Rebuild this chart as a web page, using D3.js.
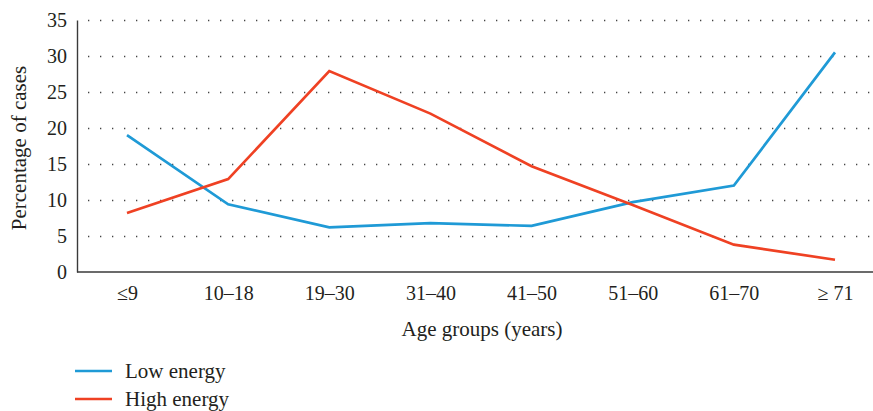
<!DOCTYPE html>
<html>
<head>
<meta charset="utf-8">
<script src="https://cdn.jsdelivr.net/npm/d3@7"></script>
<style>
  body { margin: 0; background: #fff; }
  svg text { font-family: "Liberation Serif", "DejaVu Serif", serif; fill: #231f20; }
</style>
</head>
<body>
<svg id="chart" width="873" height="411"></svg>
<script>
// data
var ageGroups = ["≤9", "10–18", "19–30", "31–40", "41–50", "51–60", "61–70", "≥ 71"];
var lowEnergy = [19.0, 9.4, 6.2, 6.8, 6.4, 9.7, 12.0, 30.5];
var highEnergy = [8.2, 12.9, 27.9, 22.0, 14.7, 9.3, 3.8, 1.7];
var yTicks = [0, 5, 10, 15, 20, 25, 30, 35];

var series = [
	{name: "Low energy", values: lowEnergy, color: "#1f9ad6"},
	{name: "High energy", values: highEnergy, color: "#ef4123"}
];

var svg = d3.select("#chart");
var mLeft = 77, mRight = 873, mTop = 20, mBottom = 272;
var tickFont = "20px", titleFont = "21px";

var x = d3.scalePoint().domain(ageGroups).range([127, 835]);
var y = d3.scaleLinear().domain([0, 35]).range([mBottom, mTop]);

// dotted grid
svg.append("g").selectAll("line")
	.data(yTicks.filter(function(d){ return d > 0; }))
	.enter().append("line")
	.attr("x1", mLeft + 11).attr("x2", mRight)
	.attr("y1", function(d){ return Math.round(y(d)) + 0.5; })
	.attr("y2", function(d){ return Math.round(y(d)) + 0.5; })
	.attr("stroke", "#444")
	.attr("stroke-width", 1.3)
	.attr("stroke-dasharray", "1.3,10.7");

// y axis
var yaxis = d3.axisLeft(y).tickValues(yTicks).tickSize(0).tickPadding(10);
var gy = svg.append("g").attr("transform", "translate(" + mLeft + ",0)").call(yaxis);
gy.select(".domain").attr("stroke", "#3a3a3a").attr("stroke-width", 1.4);
gy.selectAll("text").style("font-size", tickFont).attr("dy", "0.33em");

// x axis
var xaxis = d3.axisBottom(x).tickSize(0).tickPadding(14);
var gx = svg.append("g").attr("transform", "translate(0," + mBottom + ")").call(xaxis);
gx.select(".domain").attr("d", "M" + mLeft + ",0H" + mRight).attr("stroke", "#3a3a3a").attr("stroke-width", 1.4);
gx.selectAll("text").style("font-size", tickFont);

// axis titles
svg.append("text")
	.attr("transform", "translate(26," + ((mTop + mBottom) / 2 + 2) + ")rotate(-90)")
	.style("text-anchor", "middle")
	.style("font-size", titleFont)
	.text("Percentage of cases");

svg.append("text")
	.attr("x", 482).attr("y", 336)
	.style("text-anchor", "middle")
	.style("font-size", titleFont)
	.text("Age groups (years)");

// lines
var line = d3.line()
	.x(function(d, i){ return x(ageGroups[i]); })
	.y(function(d){ return y(d); });

svg.append("g").selectAll("path")
	.data(series)
	.enter().append("path")
	.attr("d", function(d){ return line(d.values); })
	.attr("fill", "none")
	.attr("stroke", function(d){ return d.color; })
	.attr("stroke-width", 2.7)
	.attr("stroke-linejoin", "miter");

// legend
var legend = svg.append("g").selectAll("g")
	.data(series)
	.enter().append("g")
	.attr("transform", function(d, i){ return "translate(75," + (371 + i * 28) + ")"; });

legend.append("line")
	.attr("x1", 0).attr("x2", 37)
	.attr("stroke", function(d){ return d.color; })
	.attr("stroke-width", 2.7);

legend.append("text")
	.attr("x", 50).attr("dy", "0.33em")
	.style("font-size", titleFont)
	.text(function(d){ return d.name; });
</script>
</body>
</html>
